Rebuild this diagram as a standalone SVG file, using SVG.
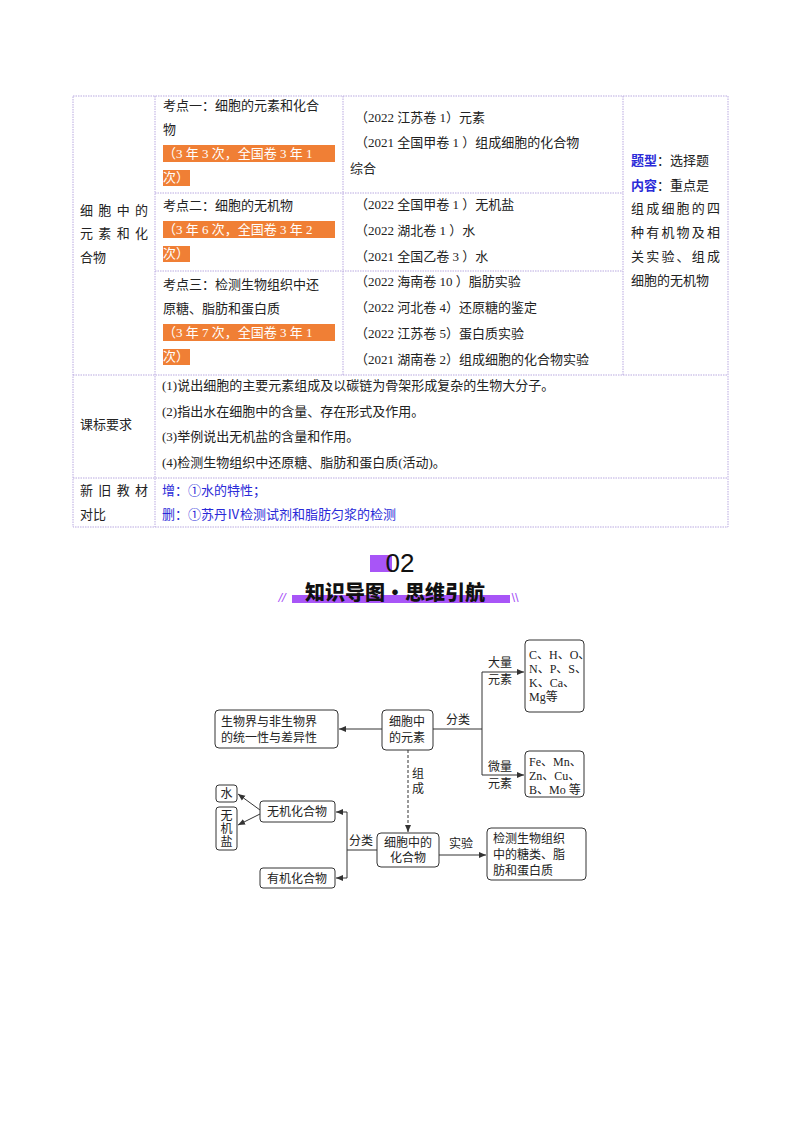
<svg xmlns="http://www.w3.org/2000/svg" width="800" height="1132" viewBox="0 0 800 1132">
<defs>
<marker id="ah" markerWidth="8" markerHeight="8" refX="7" refY="4" orient="auto" markerUnits="userSpaceOnUse"><path d="M0,1 L7,4 L0,7 Z" fill="#333"/></marker>
</defs>
<style>
.t{font-family:"Liberation Serif","Noto Sans CJK SC",serif;font-size:13px;fill:#222}
.o{fill:#ffffff}
.b{font-family:"Noto Sans CJK SC",sans-serif;font-size:13px;fill:#2a2ad8}
.g{stroke:#b9a9e0;stroke-width:1;stroke-dasharray:1.5 1;fill:none}
.hl{fill:#f07f35}
.n{fill:#fff;stroke:#333;stroke-width:1}
.m{font-family:"Liberation Serif","Noto Sans CJK SC",serif;font-size:12px;fill:#222}
.c{stroke:#333;stroke-width:1;fill:none}
</style>
<rect width="800" height="1132" fill="#fff"/>
<g id="table">
<rect class="g" x="73" y="96" width="655" height="431"/>
<line class="g" x1="155" y1="96" x2="155" y2="527"/>
<line class="g" x1="343" y1="96" x2="343" y2="375"/>
<line class="g" x1="623" y1="96" x2="623" y2="375"/>
<line class="g" x1="155" y1="193" x2="623" y2="193"/>
<line class="g" x1="155" y1="271" x2="623" y2="271"/>
<line class="g" x1="73" y1="375" x2="728" y2="375"/>
<line class="g" x1="73" y1="478" x2="728" y2="478"/>
<rect class="hl" x="163" y="145" width="172" height="17"/>
<rect class="hl" x="163" y="170" width="27" height="16"/>
<rect class="hl" x="163" y="221" width="172" height="17"/>
<rect class="hl" x="163" y="246" width="27" height="16"/>
<rect class="hl" x="163" y="324" width="172" height="17"/>
<rect class="hl" x="163" y="349" width="27" height="16"/>
<text class="t" x="80" y="215" textLength="68" lengthAdjust="spacing">细胞中的</text>
<text class="t" x="80" y="238" textLength="68" lengthAdjust="spacing">元素和化</text>
<text class="t" x="80" y="262">合物</text>
<text class="t" x="163" y="110">考点一：细胞的元素和化合</text>
<text class="t" x="163" y="134">物</text>
<text class="t o" x="163" y="158">（3 年 3 次，全国卷 3 年 1</text>
<text class="t o" x="163" y="182">次）</text>
<text class="t" x="163" y="210">考点二：细胞的无机物</text>
<text class="t o" x="163" y="234">（3 年 6 次，全国卷 3 年 2</text>
<text class="t o" x="163" y="258">次）</text>
<text class="t" x="163" y="289">考点三：检测生物组织中还</text>
<text class="t" x="163" y="313">原糖、脂肪和蛋白质</text>
<text class="t o" x="163" y="337">（3 年 7 次，全国卷 3 年 1</text>
<text class="t o" x="163" y="361">次）</text>
<text class="t" x="355" y="122">（2022 江苏卷 1）元素</text>
<text class="t" x="355" y="147">（2021  全国甲卷  1  ）组成细胞的化合物</text>
<text class="t" x="350" y="173">综合</text>
<text class="t" x="355" y="209">（2022  全国甲卷  1  ）无机盐</text>
<text class="t" x="355" y="235">（2022 湖北卷  1  ）水</text>
<text class="t" x="355" y="261">（2021  全国乙卷  3  ）水</text>
<text class="t" x="355" y="286">（2022  海南卷  10  ）脂肪实验</text>
<text class="t" x="355" y="312">（2022 河北卷 4）还原糖的鉴定</text>
<text class="t" x="355" y="338">（2022 江苏卷 5）蛋白质实验</text>
<text class="t" x="355" y="364">（2021 湖南卷 2）组成细胞的化合物实验</text>
<text class="t" x="631" y="165"><tspan class="b" font-weight="bold">题型</tspan>：选择题</text>
<text class="t" x="631" y="190"><tspan class="b" font-weight="bold">内容</tspan>：重点是</text>
<text class="t" x="631" y="213" textLength="89" lengthAdjust="spacing">组成细胞的四</text>
<text class="t" x="631" y="237" textLength="89" lengthAdjust="spacing">种有机物及相</text>
<text class="t" x="631" y="261" textLength="89" lengthAdjust="spacing">关实验、组成</text>
<text class="t" x="631" y="285">细胞的无机物</text>
<text class="t" x="80" y="429">课标要求</text>
<text class="t" x="162" y="390">(1)说出细胞的主要元素组成及以碳链为骨架形成复杂的生物大分子。</text>
<text class="t" x="162" y="416">(2)指出水在细胞中的含量、存在形式及作用。</text>
<text class="t" x="162" y="441">(3)举例说出无机盐的含量和作用。</text>
<text class="t" x="162" y="467">(4)检测生物组织中还原糖、脂肪和蛋白质(活动)。</text>
<text class="t" x="80" y="495" textLength="68" lengthAdjust="spacing">新旧教材</text>
<text class="t" x="80" y="519">对比</text>
<text class="b" x="162" y="495">增：①水的特性；</text>
<text class="b" x="162" y="519">删：①苏丹Ⅳ检测试剂和脂肪匀浆的检测</text>
</g>
<g id="header">
<rect x="370" y="555" width="22" height="17" fill="#a855f7"/>
<text x="400" y="572" text-anchor="middle" font-family="Liberation Sans,sans-serif" font-size="26" fill="#111">02</text>
<rect x="292" y="595" width="218" height="8" fill="#a855f7"/>
<text x="395" y="600" text-anchor="middle" font-family="Noto Sans CJK SC,sans-serif" font-size="20" font-weight="900" fill="#111">知识导图•思维引航</text>
<text x="282" y="602" text-anchor="middle" font-family="Liberation Sans,sans-serif" font-size="13" font-style="italic" fill="#a855f7">//</text>
<text x="515" y="602" text-anchor="middle" font-family="Liberation Sans,sans-serif" font-size="13" fill="#a855f7">\\</text>
</g>
<g id="connectors">
<line class="c" x1="382" y1="729" x2="339" y2="729" marker-end="url(#ah)"/>
<line class="c" x1="433" y1="729" x2="482" y2="729"/>
<line class="c" x1="482" y1="672" x2="482" y2="775"/>
<line class="c" x1="482" y1="672" x2="524" y2="672" marker-end="url(#ah)"/>
<line class="c" x1="482" y1="775" x2="524" y2="775" marker-end="url(#ah)"/>
<line class="c" x1="408" y1="750" x2="408" y2="832" stroke-dasharray="3 2" marker-end="url(#ah)"/>
<line class="c" x1="439" y1="855" x2="486" y2="855" marker-end="url(#ah)"/>
<line class="c" x1="377" y1="850" x2="347" y2="850"/>
<line class="c" x1="347" y1="812" x2="347" y2="878"/>
<line class="c" x1="347" y1="812" x2="336" y2="812" marker-end="url(#ah)"/>
<line class="c" x1="347" y1="878" x2="336" y2="878" marker-end="url(#ah)"/>
<line class="c" x1="260" y1="810" x2="238" y2="794" marker-end="url(#ah)"/>
<line class="c" x1="260" y1="814" x2="238" y2="825" marker-end="url(#ah)"/>
<text class="m" x="446" y="724">分类</text>
<text class="m" x="488" y="667">大量</text>
<text class="m" x="488" y="684">元素</text>
<text class="m" x="488" y="771">微量</text>
<text class="m" x="488" y="788">元素</text>
<text class="m" x="412" y="778">组</text>
<text class="m" x="412" y="793">成</text>
<text class="m" x="449" y="848">实验</text>
<text class="m" x="349" y="845">分类</text>
</g>
<g id="n1"><rect class="n" x="525" y="640" width="59" height="72" rx="4"/>
<text class="m" x="529" y="659">C、H、O、</text><text class="m" x="529" y="673">N、P、S、</text><text class="m" x="529" y="687">K、Ca、</text><text class="m" x="529" y="701">Mg等</text></g>
<g id="n2"><rect class="n" x="215" y="710" width="123" height="38" rx="4"/>
<text class="m" x="221" y="726">生物界与非生物界</text><text class="m" x="221" y="742">的统一性与差异性</text></g>
<g id="n3"><rect class="n" x="382" y="710" width="51" height="40" rx="4"/>
<text class="m" x="407" y="726" text-anchor="middle">细胞中</text><text class="m" x="407" y="742" text-anchor="middle">的元素</text></g>
<g id="n4"><rect class="n" x="525" y="751" width="59" height="46" rx="4"/>
<text class="m" x="529" y="766">Fe、Mn、</text><text class="m" x="529" y="780">Zn、Cu、</text><text class="m" x="529" y="794">B、Mo 等</text></g>
<g id="n5"><rect class="n" x="377" y="833" width="62" height="34" rx="4"/>
<text class="m" x="408" y="847" text-anchor="middle">细胞中的</text><text class="m" x="408" y="862" text-anchor="middle">化合物</text></g>
<g id="n6"><rect class="n" x="487" y="828" width="99" height="52" rx="4"/>
<text class="m" x="493" y="843">检测生物组织</text><text class="m" x="493" y="859">中的糖类、脂</text><text class="m" x="493" y="875">肪和蛋白质</text></g>
<g id="n7"><rect class="n" x="260" y="801" width="75" height="21" rx="3"/>
<text class="m" x="297" y="816" text-anchor="middle">无机化合物</text></g>
<g id="n8"><rect class="n" x="260" y="868" width="75" height="20" rx="3"/>
<text class="m" x="297" y="883" text-anchor="middle">有机化合物</text></g>
<g id="n9"><rect class="n" x="216" y="785" width="21" height="17" rx="3"/>
<text class="m" x="226.5" y="798" text-anchor="middle">水</text></g>
<g id="n10"><rect class="n" x="216" y="807" width="21" height="43" rx="3"/>
<text class="m" x="226.5" y="820" text-anchor="middle">无</text><text class="m" x="226.5" y="833" text-anchor="middle">机</text><text class="m" x="226.5" y="846" text-anchor="middle">盐</text></g>
</svg>
